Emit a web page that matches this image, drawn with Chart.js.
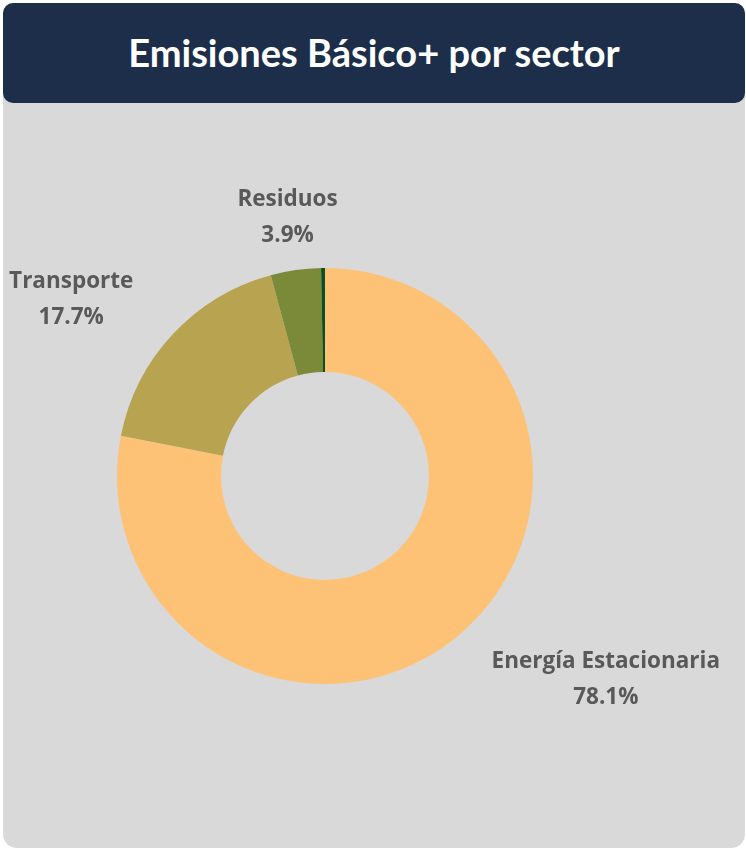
<!DOCTYPE html>
<html lang="es">
<head>
  <meta charset="UTF-8">
  <title>Emisiones Básico+ por sector</title>
  <script src="https://cdn.jsdelivr.net/npm/chart.js"></script>
  <style>
    body {
      margin: 0;
      background: #fff;
      font-family: Lato, "Open Sans", sans-serif;
    }
    .card {
      position: absolute;
      left: 3px;
      top: 3px;
      width: 742px;
      height: 845px;
      background: #d9d9d9;
      border-radius: 14px;
    }
    .header {
      position: absolute;
      left: 3px;
      top: 3px;
      width: 742px;
      height: 100px;
      background: #1c2e4a;
      border-radius: 10px;
      color: #fff;
      font-weight: bold;
      font-size: 38px;
      text-align: center;
      line-height: 98px;
    }
    canvas {
      position: absolute;
      left: 0;
      top: 0;
    }
  </style>
</head>
<body>

<div class="card"></div>
<div class="header">Emisiones Básico+ por sector</div>
<canvas id="chart" width="746" height="850"></canvas>

<script>
  const sectors = ["Energía Estacionaria", "Transporte", "Residuos", "IPPU"];
  const shares = [78.1, 17.7, 3.9, 0.3];
  const sliceColors = ["#fdc275", "#b8a351", "#7a8a38", "#0b4f22"];
  const showLabel = [true, true, true, false];

  // posición de etiquetas relativa al centro, en unidades del radio exterior
  const labelPlace = [
    { dx: 1.35, dy: 0.97 },
    { dx: -1.22, dy: -0.86 },
    { dx: -0.18, dy: -1.25 },
    { dx: 0, dy: 0 }
  ];

  const outsideLabels = {
    id: "outsideLabels",
    afterDatasetsDraw(chart) {
      const ctx = chart.ctx;
      const arcs = chart.getDatasetMeta(0).data;
      ctx.save();
      ctx.fillStyle = "#595959";
      ctx.font = "bold 22.5px 'Open Sans', sans-serif";
      ctx.textAlign = "center";
      ctx.textBaseline = "middle";
      arcs.forEach((arc, i) => {
        if (!showLabel[i]) return;
        const r = arc.outerRadius;
        const x = arc.x + labelPlace[i].dx * r;
        const y = arc.y + labelPlace[i].dy * r;
        ctx.fillText(sectors[i], x, y - 16);
        ctx.fillText(shares[i].toFixed(1) + "%", x, y + 20);
      });
      ctx.restore();
    }
  };

  new Chart(document.getElementById("chart"), {
    type: "doughnut",
    data: {
      labels: sectors,
      datasets: [{
        data: shares,
        backgroundColor: sliceColors,
        borderWidth: 0
      }]
    },
    options: {
      responsive: false,
      animation: false,
      cutout: "50%",
      layout: {
        padding: { top: 268, bottom: 166, left: 117, right: 213 }
      },
      plugins: {
        legend: { display: false },
        tooltip: { enabled: false }
      }
    },
    plugins: [outsideLabels]
  });
</script>

</body>
</html>
